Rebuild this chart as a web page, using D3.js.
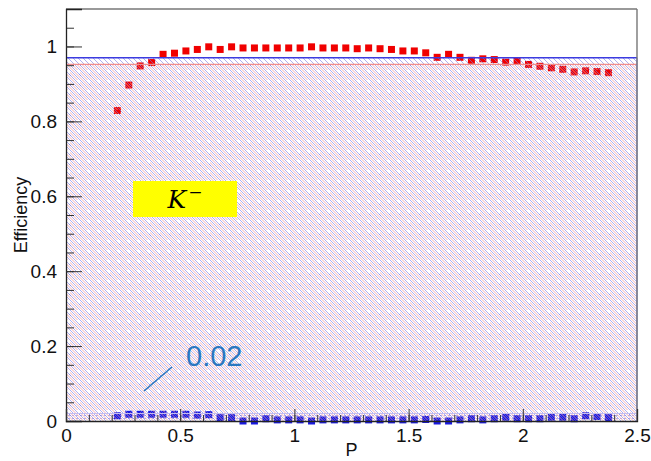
<!DOCTYPE html>
<html>
<head>
<meta charset="utf-8">
<script src="https://cdn.jsdelivr.net/npm/d3@7"></script>
<style>
html,body{margin:0;padding:0;background:#fff;}
svg{display:block;font-family:"Liberation Sans",Arial,sans-serif;}
</style>
</head>
<body>
<svg id="c" width="651" height="461"></svg>
<script>
// ---- data ----
const pValues = [0.225,0.275,0.325,0.375,0.425,0.475,0.525,0.575,0.625,0.675,0.725,0.775,0.825,0.875,0.925,0.975,1.025,1.075,1.125,1.175,1.225,1.275,1.325,1.375,1.425,1.475,1.525,1.575,1.625,1.675,1.725,1.775,1.825,1.875,1.925,1.975,2.025,2.075,2.125,2.175,2.225,2.275,2.325,2.375];
const effRed = [0.829,0.897,0.948,0.957,0.979,0.982,0.988,0.992,0.999,0.992,0.999,0.996,0.996,0.996,0.996,0.996,0.996,0.999,0.996,0.996,0.996,0.994,0.996,0.994,0.992,0.988,0.988,0.983,0.971,0.979,0.971,0.963,0.967,0.965,0.958,0.960,0.952,0.947,0.943,0.939,0.932,0.935,0.933,0.930];
const effBlue = [0.014,0.018,0.018,0.018,0.018,0.018,0.018,0.016,0.017,0.009,0.009,0.000,0.000,0.006,0.003,0.003,0.003,0.000,0.003,0.003,0.003,0.003,0.003,0.003,0.003,0.003,0.003,0.004,0.000,0.000,0.003,0.006,0.003,0.006,0.010,0.006,0.006,0.006,0.010,0.010,0.006,0.014,0.012,0.009];
const bandBlueTop = 0.97;
const bandRedTop = 0.952;
const bandLowTop = 0.02;
const xTicks = [0,0.5,1,1.5,2,2.5];
const xTickLabels = ["0","0.5","1","1.5","2","2.5"];
const yTicks = [0,0.2,0.4,0.6,0.8,1];
const yTickLabels = ["0","0.2","0.4","0.6","0.8","1"];
const xTitle = "P";
const yTitle = "Efficiency";
const annotText = "0.02";

// ---- layout ----
const L = 66, R = 637, T = 9, B = 421;
const x = d3.scaleLinear().domain([0, 2.5]).range([L, R]);
const y = d3.scaleLinear().domain([0, 1.1]).range([B, T]);
const svg = d3.select("#c");

const defs = svg.append("defs");
const pb = defs.append("pattern").attr("id","hb").attr("patternUnits","userSpaceOnUse").attr("width",10).attr("height",10);
pb.append("path").attr("d","M-1,-1L11,11M-6,-1L6,11M4,-1L16,11M-1,4L1,6M9,4L11,6")
  .attr("stroke","#7878e6").attr("stroke-width",0.6).attr("fill","none");
const pr = defs.append("pattern").attr("id","hr").attr("patternUnits","userSpaceOnUse").attr("width",10).attr("height",10);
pr.append("path").attr("d","M-3.5,-1L8.5,11M1.5,-1L13.5,11M-8.5,-1L3.5,11")
  .attr("stroke","#f39c9c").attr("stroke-width",0.8).attr("fill","none");
const pl = defs.append("pattern").attr("id","hl").attr("patternUnits","userSpaceOnUse").attr("width",4).attr("height",3);
pl.append("rect").attr("x",0).attr("y",1).attr("width",2).attr("height",1).attr("fill","#b8b0ee");

// low band under markers
svg.append("rect").attr("x",x(0)).attr("y",y(bandLowTop)).attr("width",x(2.5)-x(0)).attr("height",y(0)-y(bandLowTop))
  .attr("fill","url(#hl)");

// markers
const sz = 7;
svg.append("g").selectAll("rect").data(pValues).join("rect")
  .attr("x", (d)=>x(d)-sz/2).attr("y",(d,i)=>y(effRed[i])-sz/2)
  .attr("width",sz).attr("height",sz).attr("fill","#f00000");
svg.append("g").selectAll("rect").data(pValues).join("rect")
  .attr("x", (d)=>x(d)-sz/2).attr("y",(d,i)=>y(effBlue[i])-sz/2)
  .attr("width",sz).attr("height",sz).attr("fill","#1818e0");

// hatched bands
svg.append("rect").attr("x",x(0)).attr("y",y(bandRedTop)).attr("width",x(2.5)-x(0)).attr("height",y(0)-y(bandRedTop))
  .attr("fill","url(#hr)");
svg.append("rect").attr("x",x(0)).attr("y",y(bandBlueTop)).attr("width",x(2.5)-x(0)).attr("height",y(0)-y(bandBlueTop))
  .attr("fill","url(#hb)");
svg.append("line").attr("x1",x(0)).attr("x2",x(2.5)).attr("y1",y(bandBlueTop)).attr("y2",y(bandBlueTop))
  .attr("stroke","#3c3ce0").attr("stroke-width",1.4);
svg.append("line").attr("x1",x(0)).attr("x2",x(2.5)).attr("y1",y(bandRedTop)).attr("y2",y(bandRedTop))
  .attr("stroke","#f08c8c").attr("stroke-width",1.2);
svg.append("line").attr("x1",x(0)).attr("x2",x(2.5)).attr("y1",y(bandLowTop)).attr("y2",y(bandLowTop))
  .attr("stroke","#c4bcf0").attr("stroke-width",1);
svg.append("line").attr("x1",x(2.5)).attr("x2",x(2.5)).attr("y1",y(bandBlueTop)).attr("y2",y(0))
  .attr("stroke","#7070e0").attr("stroke-width",1);

// frame
svg.append("line").attr("x1",L).attr("x2",R).attr("y1",T).attr("y2",T).attr("stroke","#777").attr("stroke-width",1.6);
svg.append("line").attr("x1",R).attr("x2",R).attr("y1",T).attr("y2",B).attr("stroke","#777").attr("stroke-width",1.4);

// axes
const fs = 19;
const yMinor = d3.range(0, 1.1001, 0.05);
svg.append("g").attr("transform",`translate(${L},0)`)
  .call(d3.axisLeft(y).tickValues(yMinor).tickSize(-8).tickFormat(""))
  .call(g=>{g.select(".domain").remove(); g.selectAll("line").attr("stroke","#333");});
svg.append("g").attr("transform",`translate(${L},0)`)
  .call(d3.axisLeft(y).tickValues(yTicks).tickSize(-16).tickPadding(9).tickFormat((d,i)=>yTickLabels[i]))
  .call(g=>{g.select(".domain").attr("stroke","#222").attr("stroke-width",1.3);
    g.selectAll("line").attr("stroke","#333");
    g.selectAll("text").attr("font-size",fs).attr("fill","#111").attr("font-family","Liberation Sans, Arial, sans-serif");});
const xMinor = d3.range(0, 2.5001, 0.1);
svg.append("g").attr("transform",`translate(0,${B})`)
  .call(d3.axisBottom(x).tickValues(xMinor).tickSize(-6).tickFormat(""))
  .call(g=>{g.select(".domain").remove(); g.selectAll("line").attr("stroke","#333");});
svg.append("g").attr("transform",`translate(0,${B})`)
  .call(d3.axisBottom(x).tickValues(xTicks).tickSize(-12).tickPadding(8).tickFormat((d,i)=>xTickLabels[i]))
  .call(g=>{g.select(".domain").attr("stroke","#222").attr("stroke-width",1.3);
    g.selectAll("line").attr("stroke","#333");
    g.selectAll("text").attr("font-size",fs).attr("fill","#111").attr("font-family","Liberation Sans, Arial, sans-serif");});

// titles
svg.append("text").attr("x",(L+R)/2).attr("y",456).attr("text-anchor","middle")
  .attr("font-size",18).attr("fill","#111").text(xTitle);
svg.append("text").attr("transform",`translate(27,${(T+B)/2}) rotate(-90)`).attr("text-anchor","middle")
  .attr("font-size",18).attr("fill","#111").text(yTitle);

// K- label box
svg.append("rect").attr("x",133).attr("y",181).attr("width",104).attr("height",36).attr("fill","#ffff00");
const kt = svg.append("text").attr("x",185).attr("y",208).attr("text-anchor","middle")
  .attr("font-family","DejaVu Serif, serif").attr("font-size",25).attr("fill","#000");
kt.append("tspan").attr("font-style","italic").text("K");
kt.append("tspan").attr("font-size",17).attr("dy",-10).attr("dx",2).text("\u2212");

// 0.02 annotation
svg.append("line").attr("x1",144).attr("y1",391).attr("x2",172).attr("y2",367)
  .attr("stroke","#2a78c0").attr("stroke-width",1.6);
svg.append("text").attr("x",186).attr("y",366).attr("font-size",29).attr("fill","#2a78c0").text(annotText);
</script>
</body>
</html>
